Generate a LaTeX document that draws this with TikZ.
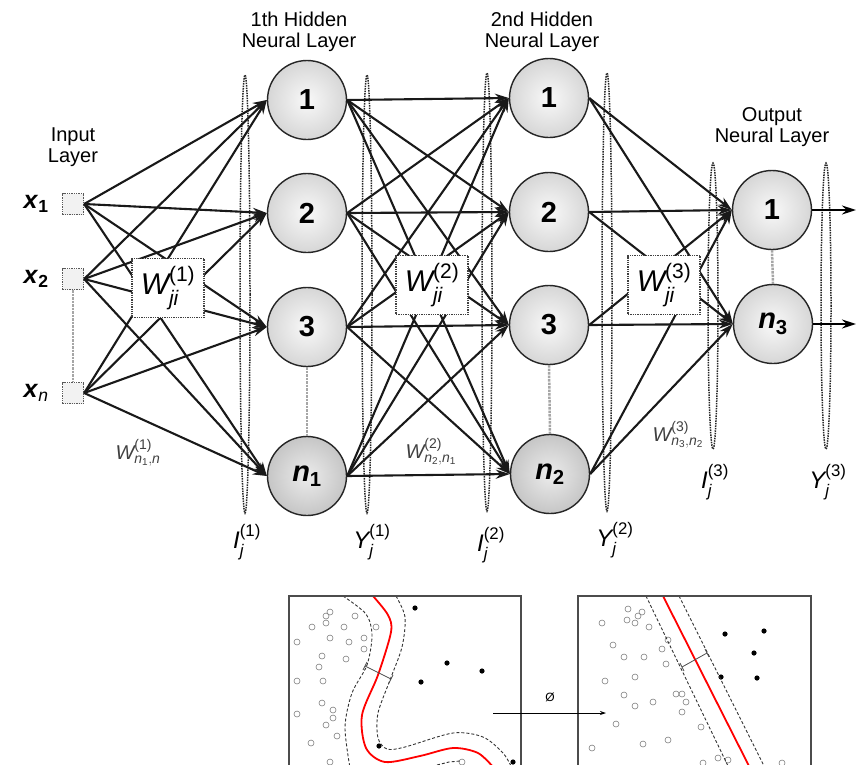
\documentclass[tikz,border=0pt]{standalone}
\usepackage{amsmath}
\usepackage{fontspec}
\setmainfont{Liberation Sans}
\usetikzlibrary{arrows.meta,shapes.geometric}
\begin{document}
\begin{tikzpicture}[x=1pt,y=-1pt,
  neuron/.style={circle,minimum size=79pt,inner sep=0pt,draw=black!85,line width=1.4pt,
    shading=radial,inner color=gray!5,outer color=gray!32,font=\fontsize{29}{29}\selectfont\bfseries},
  neurondark/.style={neuron,inner color=gray!15,outer color=gray!45},
  inbox/.style={rectangle,minimum size=21pt,inner sep=0pt,draw=black!65,densely dotted,line width=1.3pt,fill=gray!10},
  wbox/.style={rectangle,draw=black!75,densely dotted,line width=1.3pt,fill=white,
    minimum width=72pt,minimum height=59pt,inner sep=0pt,font=\fontsize{30}{30}\selectfont},
  conn/.style={line width=2.1pt,black!90,-{Stealth[length=14pt,width=9pt]}},
  outarrow/.style={line width=1.8pt,-{Stealth[length=14pt,width=9pt]}},
  layerlabel/.style={align=center,font=\fontsize{20}{21}\selectfont},
  sigma/.style={black!85,densely dotted,line width=1.5pt},
  vdots/.style={gray!70,densely dotted,line width=2.5pt},
  xlabel/.style={font=\fontsize{25}{25}\selectfont},
  wsmall/.style={black!75,font=\fontsize{20}{20}\selectfont},
  sumlabel/.style={font=\fontsize{24}{24}\selectfont},
  hollow/.style={gray,line width=0.6pt},
  solid dot/.style={fill=black},
  frame/.style={draw=black!70,line width=1.6pt},
  margin/.style={densely dashed,black!80,line width=0.9pt},
  sep/.style={red,line width=1.8pt}
]
\useasboundingbox (0,0) rectangle (856,764);
\begin{scope}
\clip (0,0) rectangle (856,764);

% layer headings
\node[layerlabel] (hInput) at (73,147) {Input\\Layer};
\node[layerlabel] (hH1) at (299,32) {1th Hidden\\Neural Layer};
\node[layerlabel] (hH2) at (542,32) {2nd Hidden\\Neural Layer};
\node[layerlabel] (hOut) at (772,127) {Output\\Neural Layer};

% dotted ellipses (summation / output planes)
\draw[sigma] (245,294) ellipse [x radius=5pt, y radius=219pt];
\draw[sigma] (367,294) ellipse [x radius=5pt, y radius=219pt];
\draw[sigma] (487,292) ellipse [x radius=5pt, y radius=219pt];
\draw[sigma] (607,292) ellipse [x radius=5pt, y radius=219pt];
\draw[sigma] (713,306) ellipse [x radius=5pt, y radius=143pt];
\draw[sigma] (826,306) ellipse [x radius=5pt, y radius=143pt];

% input nodes
\node[inbox] (in1) at (73,204) {};
\node[inbox] (in2) at (73,279) {};
\node[inbox] (inn) at (73,393) {};
\node[xlabel] (lx1) at (36,204) {$\textbf{\textit{x}}_{\textbf{1}}$};
\node[xlabel] (lx2) at (36,279) {$\textbf{\textit{x}}_{\textbf{2}}$};
\node[xlabel] (lxn) at (36,393) {$\textbf{\textit{x}}_{\textit{n}}$};

% hidden layer 1
\node[neuron] (h11) at (307,100) {1};
\node[neuron] (h12) at (307,213) {2};
\node[neuron] (h13) at (307,327) {3};
\node[neurondark] (h1n) at (307,476) {$\textbf{\textit{n}}_{\textbf{1}}$};

% hidden layer 2
\node[neuron] (h21) at (549,98) {1};
\node[neuron] (h22) at (549,212) {2};
\node[neuron] (h23) at (549,325) {3};
\node[neurondark] (h2n) at (550,474) {$\textbf{\textit{n}}_{\textbf{2}}$};

% output layer
\node[neuron] (o1) at (772,210) {1};
\node[neuron] (on) at (773,324) {$\textbf{\textit{n}}_{\textbf{3}}$};

% vertical dotted continuations
\draw[vdots] (in2.south) -- (inn.north);
\draw[vdots] (h13.south) -- (h1n.north);
\draw[vdots] (h23.south) -- (h2n.north);
\draw[vdots] (o1.south) -- (on.north);

% connections
\foreach \a in {in1,in2,inn}
  \foreach \b in {h11,h12,h13,h1n}
    \draw[conn] (\a.east) -- (\b.west);
\foreach \a in {h11,h12,h13,h1n}
  \foreach \b in {h21,h22,h23,h2n}
    \draw[conn] (\a.east) -- (\b.west);
\foreach \a in {h21,h22,h23,h2n}
  \foreach \b in {o1,on}
    \draw[conn] (\a.east) -- (\b.west);

\coordinate (y1end) at (856,210);
\coordinate (ynend) at (856,324);
\draw[outarrow] (o1.east) -- (y1end);
\draw[outarrow] (on.east) -- (ynend);

% weight boxes
\node[wbox] (w1) at (168,288) {$\textit{W}^{\text{(1)}}_{\textit{ji}}$};
\node[wbox] (w2) at (432,285) {$\textit{W}^{\text{(2)}}_{\textit{ji}}$};
\node[wbox] (w3) at (664,285) {$\textit{W}^{\text{(3)}}_{\textit{ji}}$};

% weight labels
\node[wsmall] (wl1) at (138,453) {$\textit{W}^{\text{(1)}}_{\textit{n}_{\text{1}},\textit{n}}$};
\node[wsmall] (wl2) at (431,452) {$\textit{W}^{\text{(2)}}_{\textit{n}_{\text{2}},\textit{n}_{\text{1}}}$};
\node[wsmall] (wl3) at (678,435) {$\textit{W}^{\text{(3)}}_{\textit{n}_{\text{3}},\textit{n}_{\text{2}}}$};

% sum / output labels
\node[sumlabel] (I1) at (247,542) {$\textit{I}^{\text{(1)}}_{\textit{j}}$};
\node[sumlabel] (Y1) at (372,542) {$\textit{Y}^{\text{(1)}}_{\textit{j}}$};
\node[sumlabel] (I2) at (491,545) {$\textit{I}^{\text{(2)}}_{\textit{j}}$};
\node[sumlabel] (Y2) at (615,540) {$\textit{Y}^{\text{(2)}}_{\textit{j}}$};
\node[sumlabel] (I3) at (715,482) {$\textit{I}^{\text{(3)}}_{\textit{j}}$};
\node[sumlabel] (Y3) at (828,482) {$\textit{Y}^{\text{(3)}}_{\textit{j}}$};

% ---------------- bottom: kernel mapping ----------------
% left panel
\foreach \p in {(330,612),(326,616),(326,623),(312,627),(344,627),(355,616),(376,627),
  (330,638),(349,642),(364,638),(297,642),(364,649),(322,656),(346,659),(319,667),
  (297,681),(323,681),(322,703),(333,710),(333,718),(297,714),(326,725),(337,736),
  (311,743),(330,762),(462,762)}
  \draw[hollow] \p circle[radius=3pt];
\foreach \p in {(415,608),(447,663),(482,671),(421,682),(379,746),(513,762)}
  \fill[solid dot] \p circle[radius=2.6pt];
\draw[margin] plot[smooth] coordinates {(343,596) (366,614) (372,635) (367,665) (352,693) (345,727) (350,768)};
\draw[margin] plot[smooth] coordinates {(396,596) (405,617) (402,647) (390,680) (378,713) (378,738) (387,749) (405,747) (453,733) (483,737) (503,753) (512,768)};
\draw[margin] (437,765) -- (449,762) -- (460,761);
\draw[sep] plot[smooth] coordinates {(373,596) (388,615) (391,632) (378,675) (362,715) (366,748) (385,762) (420,756) (453,748) (478,753) (494,768)};
\draw[black!70,line width=0.8pt] (365,666) -- (391,679);
\draw[black!70,line width=0.8pt] (363,670) -- (367,662);
\draw[black!70,line width=0.8pt] (389,683) -- (393,675);

% right panel
\foreach \p in {(628,609),(642,612),(638,616),(627,620),(635,623),(649,627),(602,623),
  (613,645),(668,640),(662,649),(624,657),(644,657),(666,664),(635,677),(605,681),
  (624,695),(676,694),(682,694),(635,706),(653,702),(686,702),(682,712),(616,724),
  (701,727),(592,748),(643,744),(668,740),(718,758),(728,760),(703,763),(782,763)}
  \draw[hollow] \p circle[radius=3pt];
\foreach \p in {(725,634),(764,631),(754,653),(721,677),(757,678)}
  \fill[solid dot] \p circle[radius=2.6pt];
\coordinate (lmA) at (646,596); \coordinate (lmB) at (729,768);
\coordinate (rmA) at (679,596); \coordinate (rmB) at (765,768);
\coordinate (sA) at (663,596); \coordinate (sB) at (750,768);
\draw[margin] (lmA) -- (lmB);
\draw[margin] (rmA) -- (rmB);
\draw[sep] (sA) -- (sB);
\draw[black!70,line width=0.8pt] (682,667) -- (707,653);
\draw[black!70,line width=0.8pt] (680,663) -- (684,671);
\draw[black!70,line width=0.8pt] (705,649) -- (709,657);

% frames
\draw[frame] (289,800) -- (289,596) -- (521,596) -- (521,800);
\draw[frame] (578,800) -- (578,596) -- (811,596) -- (811,800);

% mapping arrow
\coordinate (phiS) at (493,713);
\coordinate (phiE) at (606,713);
\draw[line width=0.8pt,-{Stealth[length=6pt,width=4pt]}] (phiS) -- (phiE);
\node[font=\fontsize{12}{12}\selectfont] (phi) at (550,697) {Ø};
\end{scope}
\end{tikzpicture}
\end{document}
